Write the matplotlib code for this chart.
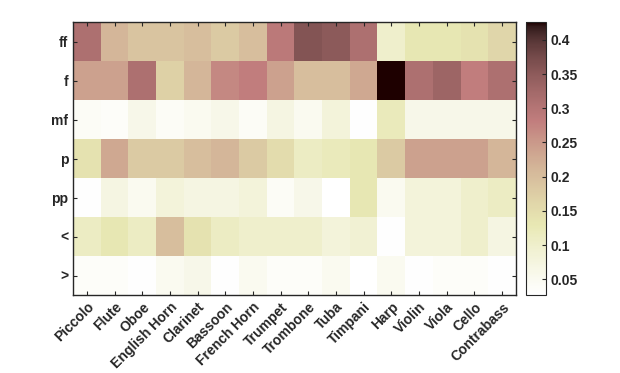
import numpy as np
import matplotlib
matplotlib.use("Agg")
import matplotlib.pyplot as plt

instruments = ["Piccolo", "Flute", "Oboe", "English Horn", "Clarinet", "Bassoon",
               "French Horn", "Trumpet", "Trombone", "Tuba", "Timpani", "Harp",
               "Violin", "Viola", "Cello", "Contrabass"]
dynamics = ["ff", "f", "mf", "p", "pp", "<", ">"]

ff = [0.31, 0.21, 0.19, 0.19, 0.20, 0.18, 0.20, 0.29, 0.36, 0.35, 0.31, 0.10, 0.13, 0.13, 0.14, 0.16]
f = [0.24, 0.24, 0.31, 0.17, 0.21, 0.27, 0.28, 0.24, 0.20, 0.20, 0.23, 0.426, 0.31, 0.33, 0.28, 0.31]
mf = [0.04, 0.035, 0.06, 0.04, 0.05, 0.06, 0.04, 0.07, 0.05, 0.08, 0.03, 0.12, 0.06, 0.06, 0.06, 0.06]
p = [0.14, 0.23, 0.18, 0.18, 0.20, 0.21, 0.18, 0.15, 0.11, 0.12, 0.13, 0.18, 0.24, 0.24, 0.24, 0.21]
pp = [0.03, 0.07, 0.05, 0.08, 0.07, 0.07, 0.08, 0.04, 0.06, 0.027, 0.13, 0.05, 0.08, 0.08, 0.10, 0.11]
cresc = [0.11, 0.13, 0.11, 0.20, 0.14, 0.11, 0.10, 0.10, 0.10, 0.08, 0.09, 0.03, 0.08, 0.08, 0.10, 0.07]
decresc = [0.035, 0.035, 0.03, 0.05, 0.06, 0.03, 0.05, 0.035, 0.035, 0.05, 0.027, 0.05, 0.03, 0.035, 0.035, 0.03]

data = np.array([ff, f, mf, p, pp, cresc, decresc])

plt.rcParams['font.family'] = ['Liberation Sans', 'DejaVu Sans']
plt.rcParams['font.weight'] = 'bold'

fig = plt.figure(figsize=(6.2, 3.73), dpi=100)
ax = fig.add_axes([73/620, 1-295/373, (516-73)/620, (295-22)/373])
cax = fig.add_axes([526/620, 1-295/373, 20/620, (295-22)/373])

im = ax.imshow(data, cmap='pink_r', aspect='auto', vmin=0.027, vmax=0.426,
               interpolation='nearest')

ax.set_xticks(range(len(instruments)))
ax.set_xticklabels(instruments, rotation=45, ha='right', rotation_mode='anchor',
                   fontsize=10, fontweight='bold', color='#262626')
ax.set_yticks(range(len(dynamics)))
ax.set_yticklabels(dynamics, fontsize=10, fontweight='bold', color='#262626')
ax.tick_params(direction='in', top=True, right=True, length=3, color='#262626')
for s in ax.spines.values():
    s.set_color('#262626')
    s.set_linewidth(1.0)

cb = fig.colorbar(im, cax=cax)
cb.set_ticks([0.05, 0.1, 0.15, 0.2, 0.25, 0.3, 0.35, 0.4])
cb.set_ticklabels(['0.05', '0.1', '0.15', '0.2', '0.25', '0.3', '0.35', '0.4'])
cax.tick_params(direction='in', length=3, labelsize=10, color='#262626', labelcolor='#262626')
cb.outline.set_edgecolor('#262626')

fig.savefig("out.png", dpi=100)
